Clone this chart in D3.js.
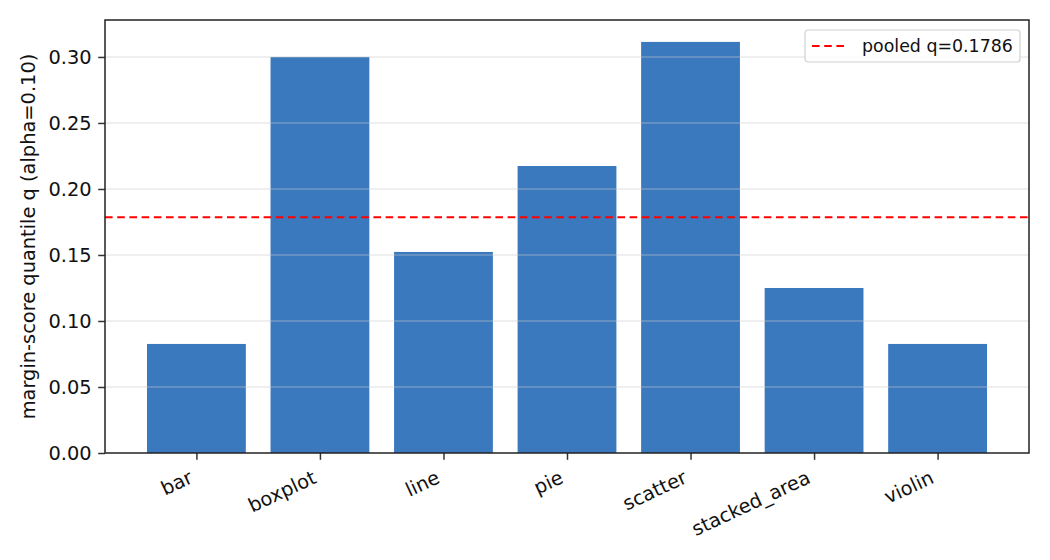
<!DOCTYPE html>
<html>
<head>
<meta charset="utf-8">
<script src="https://cdn.jsdelivr.net/npm/d3@7"></script>
<style>
  body { margin: 0; background: #fff; }
  svg { font-family: "DejaVu Sans", sans-serif; }
</style>
</head>
<body>
<div id="chart"></div>
<script>
// chart values
const categories = ['bar', 'boxplot', 'line', 'pie', 'scatter', 'stacked_area', 'violin'];
const quantiles = [0.0826, 0.3000, 0.1523, 0.2174, 0.3114, 0.1250, 0.0826];
const yTicks = [0.00, 0.05, 0.10, 0.15, 0.20, 0.25, 0.30];
const pooledQ = 0.1786;

const width = 1050, height = 560;
const margin = { top: 20, right: 21, bottom: 107, left: 105 };
const innerW = width - margin.left - margin.right;
const innerH = height - margin.top - margin.bottom;
const fontSize = 19.4;

const svg = d3.select('#chart')
    .append('svg')
    .attr('width', width)
    .attr('height', height)
    .attr('viewBox', [0, 0, width, height]);

const g = svg.append('g')
    .attr('transform', `translate(${margin.left},${margin.top})`);

// matplotlib-style limits: bars of width 0.8 plus 5% margins
const barW = 0.8;
const x = d3.scaleLinear()
    .domain([-0.74, categories.length - 1 + 0.74])
    .range([0, innerW]);
const y = d3.scaleLinear()
    .domain([0, 0.328])
    .range([innerH, 0]);

// bars
g.append('g')
    .selectAll('rect')
    .data(quantiles)
    .join('rect')
    .attr('x', (d, i) => x(i - barW / 2))
    .attr('width', (d, i) => x(i + barW / 2) - x(i - barW / 2))
    .attr('y', d => y(d))
    .attr('height', d => y(0) - y(d))
    .attr('fill', '#3b79bf');

// grid on top, semi-transparent
g.append('g')
    .selectAll('line')
    .data(yTicks.slice(1))
    .join('line')
    .attr('x1', 0)
    .attr('x2', innerW)
    .attr('y1', d => y(d))
    .attr('y2', d => y(d))
    .attr('stroke', '#c8c8c8')
    .attr('stroke-opacity', 0.4)
    .attr('stroke-width', 1.5);

// pooled line
g.append('line')
    .attr('x1', 0)
    .attr('x2', innerW)
    .attr('y1', y(pooledQ))
    .attr('y2', y(pooledQ))
    .attr('stroke', '#ff0000')
    .attr('stroke-width', 2)
    .attr('stroke-dasharray', '7.6,4.6');

// y axis
const yAxis = g.append('g')
    .call(d3.axisLeft(y).tickValues(yTicks).tickFormat(d3.format('.2f')).tickSize(6.8).tickPadding(6.5));
yAxis.select('.domain').remove();
yAxis.selectAll('line').attr('stroke', '#333').attr('stroke-width', 1.5);
yAxis.selectAll('text')
    .attr('font-size', fontSize)
    .attr('fill', '#111')
    .attr('font-family', '"DejaVu Sans", sans-serif');

// x axis
const xAxis = g.append('g')
    .attr('transform', `translate(0,${innerH})`)
    .call(d3.axisBottom(x).tickValues(d3.range(categories.length)).tickFormat(i => categories[i]).tickSize(6.8).tickPadding(6.5));
xAxis.select('.domain').remove();
xAxis.selectAll('line').attr('stroke', '#333').attr('stroke-width', 1.5);
xAxis.selectAll('text')
    .attr('font-size', fontSize)
    .attr('fill', '#111')
    .attr('font-family', '"DejaVu Sans", sans-serif')
    .attr('text-anchor', 'end')
    .attr('y', 0)
    .attr('dy', '0.75em')
    .attr('transform', 'translate(-9,16) rotate(-25)');

// frame
g.append('rect')
    .attr('width', innerW)
    .attr('height', innerH)
    .attr('fill', 'none')
    .attr('stroke', '#222')
    .attr('stroke-width', 1.5);

// y label
svg.append('text')
    .attr('transform', `translate(35,${margin.top + innerH / 2}) rotate(-90)`)
    .attr('text-anchor', 'middle')
    .attr('font-size', fontSize)
    .attr('fill', '#111')
    .text('margin-score quantile q (alpha=0.10)');

// legend
const lg = g.append('g').attr('transform', `translate(${innerW - 224},10)`);
lg.append('rect')
    .attr('width', 215)
    .attr('height', 32)
    .attr('rx', 3)
    .attr('fill', '#fff')
    .attr('fill-opacity', 0.8)
    .attr('stroke', '#d0d0d0')
    .attr('stroke-width', 1.2);
lg.append('line')
    .attr('x1', 7).attr('x2', 40)
    .attr('y1', 16).attr('y2', 16)
    .attr('stroke', '#ff0000')
    .attr('stroke-width', 2)
    .attr('stroke-dasharray', '7.6,4.6');
lg.append('text')
    .attr('x', 57)
    .attr('y', 21.5)
    .attr('font-size', 17.4)
    .attr('fill', '#111')
    .text(`pooled q=${pooledQ}`);
</script>
</body>
</html>
